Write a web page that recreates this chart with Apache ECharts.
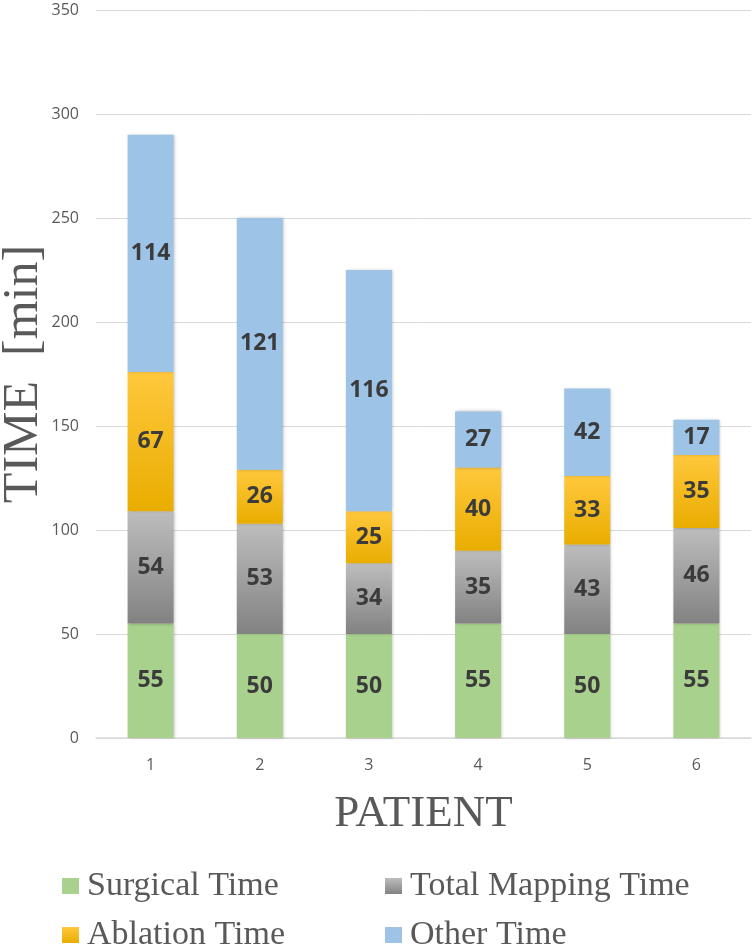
<!DOCTYPE html>
<html>
<head>
<meta charset="utf-8">
<script src="https://cdn.jsdelivr.net/npm/echarts@6/dist/echarts.min.js"></script>
<style>
  html, body { margin: 0; padding: 0; background: #fff; }
  #chart { width: 755px; height: 946px; }
</style>
</head>
<body>
<div id="chart"></div>
<script>
// patients on the x axis
const patients = ['1', '2', '3', '4', '5', '6']

// stacked times, minutes
const surgicalTime = [55, 50, 50, 55, 50, 55]
const mappingTime = [54, 53, 34, 35, 43, 46]
const ablationTime = [67, 26, 25, 40, 33, 35]
const otherTime = [114, 121, 116, 27, 42, 17]

const seriesNames = ['Surgical Time', 'Total Mapping Time', 'Ablation Time', 'Other Time']

const chart = echarts.init(document.getElementById('chart'))

const grad = (top, bottom) => new echarts.graphic.LinearGradient(0, 0, 0, 1, [
  { offset: 0, color: top },
  { offset: 1, color: bottom }
])

const labelStyle = {
  show: true,
  position: 'inside',
  fontFamily: 'Open Sans',
  fontWeight: 'bold',
  fontSize: 23,
  color: '#3b3b3b'
}

const barBase = {
  type: 'bar',
  stack: 'total',
  barWidth: 46,
  label: labelStyle
}

const shadow = {
  shadowColor: 'rgba(0,0,0,0.25)',
  shadowBlur: 3,
  shadowOffsetX: 1
}

// two columns of legend, like the original
const legendCol = (left, names) => ({
  left: left,
  top: 863,
  height: 120,
  orient: 'vertical',
  itemWidth: 17,
  itemHeight: 16,
  itemGap: 13,
  icon: 'rect',
  textStyle: {
    fontFamily: 'Liberation Serif',
    fontSize: 34,
    lineHeight: 36,
    color: '#595959',
    padding: [0, 0, 0, 3]
  },
  data: names
})

chart.setOption({
  animation: false,
  grid: { left: 96, right: 4, top: 10, bottom: 208, containLabel: false, outerBoundsMode: 'none' },
  legend: [
    legendCol(57, [seriesNames[0], seriesNames[2]]),
    legendCol(380, [seriesNames[1], seriesNames[3]])
  ],
  xAxis: {
    type: 'category',
    data: patients,
    name: 'PATIENT',
    nameLocation: 'middle',
    nameGap: 54,
    nameMoveOverlap: false,
    nameTextStyle: { fontFamily: 'Liberation Serif', fontSize: 45, color: '#595959' },
    axisTick: { show: false },
    axisLine: { lineStyle: { color: '#d9d9d9', width: 1.5 } },
    axisLabel: { fontFamily: 'Open Sans', fontSize: 16, color: '#595959', margin: 19 }
  },
  yAxis: {
    type: 'value',
    min: 0,
    max: 350,
    interval: 50,
    name: 'TIME  [min]',
    nameLocation: 'middle',
    nameGap: 47,
    nameMoveOverlap: false,
    nameTextStyle: { fontFamily: 'Liberation Serif', fontSize: 50, color: '#595959' },
    axisLine: { show: false },
    axisTick: { show: false },
    splitLine: { lineStyle: { color: '#d9d9d9', width: 1 } },
    axisLabel: { fontFamily: 'Open Sans', fontSize: 16, color: '#595959', margin: 17 }
  },
  series: [
    Object.assign({}, barBase, {
      name: seriesNames[0],
      data: surgicalTime,
      itemStyle: Object.assign({ color: '#a9d18e' }, shadow)
    }),
    Object.assign({}, barBase, {
      name: seriesNames[1],
      data: mappingTime,
      itemStyle: Object.assign({ color: grad('#bdbdbd', '#828282') }, shadow)
    }),
    Object.assign({}, barBase, {
      name: seriesNames[2],
      data: ablationTime,
      itemStyle: Object.assign({ color: grad('#ffc83d', '#e9ad00') }, shadow)
    }),
    Object.assign({}, barBase, {
      name: seriesNames[3],
      data: otherTime,
      itemStyle: Object.assign({ color: '#9dc3e6' }, shadow)
    })
  ]
})
</script>
</body>
</html>
